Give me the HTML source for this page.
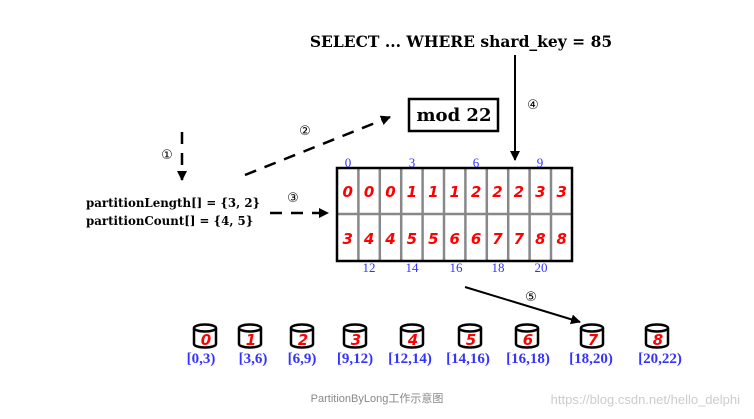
<!DOCTYPE html>
<html><head><meta charset="utf-8"><style>
html,body{margin:0;padding:0;background:#fff;}
svg{display:block;}
.s{font-family:"DejaVu Serif","Liberation Serif",serif;font-weight:bold;}
.n{font-family:"DejaVu Sans","Liberation Sans",sans-serif;font-weight:bold;font-style:italic;fill:#f00;font-size:15px;text-anchor:middle;}
.b{font-family:"Liberation Serif",serif;fill:#33f;font-size:13px;text-anchor:middle;}
.c{font-family:"DejaVu Sans",sans-serif;font-size:13px;text-anchor:middle;}
</style></head><body>
<svg width="754" height="419" viewBox="0 0 754 419" xmlns="http://www.w3.org/2000/svg">
<defs><marker id="a" markerWidth="10" markerHeight="10" refX="9" refY="5" orient="auto" markerUnits="userSpaceOnUse"><path d="M0,0 L10,5 L0,10 z" fill="#000"/></marker></defs>
<text x="461" y="47" class="s" font-size="15.5" text-anchor="middle">SELECT ... WHERE shard_key = 85</text>
<rect x="409" y="99" width="89" height="32" fill="#fff" stroke="#000" stroke-width="2.5"/>
<text x="454" y="121" class="s" font-size="18" text-anchor="middle">mod 22</text>
<line x1="515" y1="55" x2="515" y2="160" stroke="#000" stroke-width="2" marker-end="url(#a)"/>
<text x="533" y="109" class="c">④</text>
<line x1="182" y1="132" x2="182" y2="180" stroke="#000" stroke-width="2.5" stroke-dasharray="12,9" marker-end="url(#a)"/>
<text x="167" y="159" class="c">①</text>
<line x1="245" y1="175" x2="390" y2="117" stroke="#000" stroke-width="2.5" stroke-dasharray="12,9" marker-end="url(#a)"/>
<text x="305" y="135" class="c">②</text>
<line x1="270" y1="213" x2="328" y2="213" stroke="#000" stroke-width="2.5" stroke-dasharray="12,9" marker-end="url(#a)"/>
<text x="293" y="202" class="c">③</text>
<text x="86" y="207" class="s" font-size="11.8">partitionLength[] = {3, 2}</text>
<text x="86" y="225" class="s" font-size="11.8">partitionCount[] = {4, 5}</text>
<g stroke="#888" stroke-width="2.5">
<line x1="337" y1="214" x2="572" y2="214"/>
<line x1="358.4" y1="168" x2="358.4" y2="261"/><line x1="379.8" y1="168" x2="379.8" y2="261"/><line x1="401.2" y1="168" x2="401.2" y2="261"/><line x1="422.6" y1="168" x2="422.6" y2="261"/><line x1="444" y1="168" x2="444" y2="261"/><line x1="465.4" y1="168" x2="465.4" y2="261"/><line x1="486.8" y1="168" x2="486.8" y2="261"/><line x1="508.2" y1="168" x2="508.2" y2="261"/><line x1="529.6" y1="168" x2="529.6" y2="261"/><line x1="551" y1="168" x2="551" y2="261"/>
</g>
<rect x="337" y="168" width="235" height="93" fill="none" stroke="#000" stroke-width="2.5"/>
<g class="n">
<text x="347.7" y="197">0</text><text x="369.1" y="197">0</text><text x="390.5" y="197">0</text><text x="411.9" y="197">1</text><text x="433.3" y="197">1</text><text x="454.7" y="197">1</text><text x="476.1" y="197">2</text><text x="497.5" y="197">2</text><text x="518.9" y="197">2</text><text x="540.3" y="197">3</text><text x="561.7" y="197">3</text>
<text x="347.7" y="244">3</text><text x="369.1" y="244">4</text><text x="390.5" y="244">4</text><text x="411.9" y="244">5</text><text x="433.3" y="244">5</text><text x="454.7" y="244">6</text><text x="476.1" y="244">6</text><text x="497.5" y="244">7</text><text x="518.9" y="244">7</text><text x="540.3" y="244">8</text><text x="561.7" y="244">8</text>
</g>
<g class="b">
<text x="348" y="167">0</text><text x="412" y="167">3</text><text x="476" y="167">6</text><text x="540" y="167">9</text>
<text x="369" y="272">12</text><text x="412" y="272">14</text><text x="456" y="272">16</text><text x="498" y="272">18</text><text x="541" y="272">20</text>
</g>
<line x1="465" y1="287" x2="580" y2="322" stroke="#000" stroke-width="2" marker-end="url(#a)"/>
<text x="531" y="301" class="c">⑤</text>
<g stroke="#000" stroke-width="2.5" fill="#fff">
<path d="M194,328 v16 a11,3.5 0 0 0 22,0 v-16"/><ellipse cx="205" cy="328" rx="11" ry="3.5"/>
<path d="M239,328 v16 a11,3.5 0 0 0 22,0 v-16"/><ellipse cx="250" cy="328" rx="11" ry="3.5"/>
<path d="M291,328 v16 a11,3.5 0 0 0 22,0 v-16"/><ellipse cx="302" cy="328" rx="11" ry="3.5"/>
<path d="M344,328 v16 a11,3.5 0 0 0 22,0 v-16"/><ellipse cx="355" cy="328" rx="11" ry="3.5"/>
<path d="M401,328 v16 a11,3.5 0 0 0 22,0 v-16"/><ellipse cx="412" cy="328" rx="11" ry="3.5"/>
<path d="M459,328 v16 a11,3.5 0 0 0 22,0 v-16"/><ellipse cx="470" cy="328" rx="11" ry="3.5"/>
<path d="M516,328 v16 a11,3.5 0 0 0 22,0 v-16"/><ellipse cx="527" cy="328" rx="11" ry="3.5"/>
<path d="M581,328 v16 a11,3.5 0 0 0 22,0 v-16"/><ellipse cx="592" cy="328" rx="11" ry="3.5"/>
<path d="M646,328 v16 a11,3.5 0 0 0 22,0 v-16"/><ellipse cx="657" cy="328" rx="11" ry="3.5"/>
</g>
<g class="n" font-size="14">
<text x="206" y="345">0</text><text x="251" y="345">1</text><text x="303" y="345">2</text><text x="356" y="345">3</text><text x="413" y="345">4</text><text x="471" y="345">5</text><text x="528" y="345">6</text><text x="593" y="345">7</text><text x="658" y="345">8</text>
</g>
<g class="b" style="font-weight:bold;font-size:15px">
<text x="201" y="363">[0,3)</text><text x="253" y="363">[3,6)</text><text x="302" y="363">[6,9)</text><text x="355" y="363">[9,12)</text><text x="410" y="363">[12,14)</text><text x="468" y="363">[14,16)</text><text x="528" y="363">[16,18)</text><text x="591" y="363">[18,20)</text><text x="660" y="363">[20,22)</text>
</g>
<text x="377" y="402" font-family="Liberation Sans,'Noto Sans CJK SC',sans-serif" font-size="11" fill="#888" text-anchor="middle">PartitionByLong工作示意图</text>
<text x="740" y="404" font-family="Liberation Sans,sans-serif" font-size="13" fill="#ccc" text-anchor="end">https://blog.csdn.net/hello_delphi</text>
</svg>
</body></html>
